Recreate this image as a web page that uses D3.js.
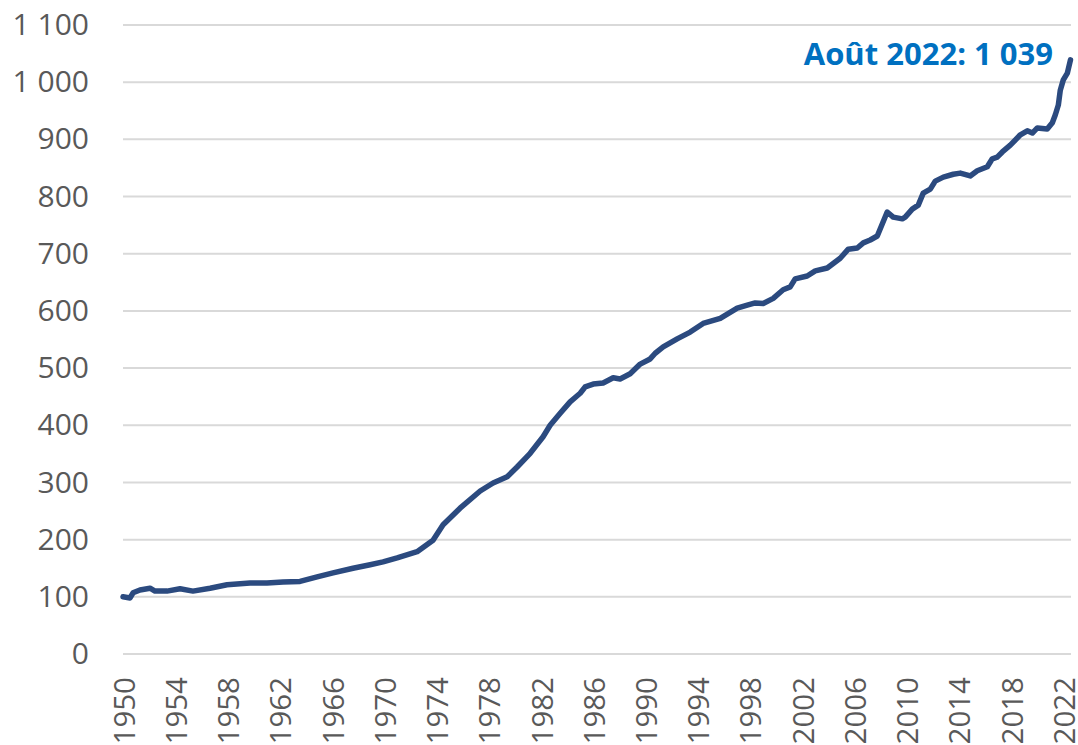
<!DOCTYPE html>
<html>
<head>
<meta charset="utf-8">
<script src="https://cdn.jsdelivr.net/npm/d3@7"></script>
<style>
  body { margin: 0; background: #fff; }
  #chart { width: 1078px; height: 745px; }
  text { font-family: "Open Sans", "Noto Sans", sans-serif; }
</style>
</head>
<body>
<div id="chart"></div>
<script>
// data (fractional year, index value)
var years = [1950.0, 1950.54, 1950.77, 1951.3, 1952.07, 1952.45, 1953.37, 1954.37, 1955.36, 1956.67,
  1957.97, 1959.73, 1961.03, 1962.26, 1963.56, 1964.87, 1966.09, 1967.62, 1968.93, 1969.92,
  1971.0, 1972.53, 1973.75, 1974.52, 1975.82, 1977.36, 1978.35, 1979.43, 1980.19, 1981.19,
  1982.18, 1982.72, 1983.49, 1984.25, 1985.02, 1985.4, 1986.02, 1986.78, 1987.55, 1988.08,
  1988.85, 1989.62, 1990.38, 1990.77, 1991.38, 1992.45, 1993.45, 1994.44, 1995.75, 1997.05,
  1997.82, 1998.43, 1999.04, 1999.81, 2000.57, 2001.11, 2001.49, 2002.41, 2003.03, 2003.95,
  2004.94, 2005.56, 2006.25, 2006.71, 2007.24, 2007.78, 2008.54, 2009.0, 2009.7, 2009.92,
  2010.46, 2010.92, 2011.3, 2011.84, 2012.22, 2012.84, 2013.6, 2014.14, 2014.9, 2015.44,
  2016.21, 2016.59, 2016.97, 2017.36, 2017.97, 2018.74, 2019.27, 2019.66, 2020.04, 2020.8,
  2021.19, 2021.42, 2021.65, 2021.8, 2022.03, 2022.34, 2022.58];
var values = [100, 98, 107, 112, 115, 110, 110, 114, 110, 115,
  121, 124, 124, 126, 127, 135, 142, 150, 156, 161,
  168, 179, 199, 226, 255, 285, 299, 310, 327, 351,
  380, 400, 421, 441, 456, 467, 472, 474, 483, 481,
  490, 507, 516, 526, 537, 551, 563, 578, 587, 605,
  610, 614, 613, 622, 637, 642, 656, 661, 670, 675,
  692, 708, 710, 719, 724, 731, 773, 764, 761, 764,
  778, 785, 806, 813, 827, 834, 839, 841, 836, 845,
  852, 866, 869, 878, 890, 908, 915, 911, 920, 918,
  929, 943, 960, 986, 1004, 1016, 1039];
var xTicks = d3.range(1950, 2023, 4);
var yTicks = d3.range(0, 1101, 100);
var annotation = "Août 2022: 1 039";

var svgWidth = 1078;
var svgHeight = 745;

var svg = d3.select("#chart")
  .append("svg")
  .attr("width", svgWidth)
  .attr("height", svgHeight);

var fr = d3.formatLocale({ decimal: ",", thousands: " ", grouping: [3], currency: ["", " €"] });
var fmt = fr.format(",d");

var x = d3.scaleLinear().domain([1950, 2022.62]).range([123, 1071]);
var y = d3.scaleLinear().domain([0, 1100]).range([654, 25]);

// gridlines
svg.append("g")
  .selectAll("line")
  .data(yTicks)
  .enter()
  .append("line")
  .attr("x1", 123)
  .attr("x2", 1071)
  .attr("y1", function(d) { return y(d); })
  .attr("y2", function(d) { return y(d); })
  .attr("stroke", "#d9d9d9")
  .attr("stroke-width", 2);

// y axis labels
var leftAxis = d3.axisLeft(y).tickValues(yTicks).tickFormat(fmt).tickSize(0).tickPadding(0);
var yAxis = svg.append("g")
  .attr("transform", "translate(89,0)")
  .call(leftAxis);
yAxis.select(".domain").remove();
yAxis.selectAll("text")
  .attr("font-size", 30)
  .attr("fill", "#595959")
  .attr("font-family", "'Open Sans', 'Noto Sans', sans-serif");

// x axis labels, rotated
var bottomAxis = d3.axisBottom(x).tickValues(xTicks).tickFormat(d3.format("d")).tickSize(0);
var xAxis = svg.append("g")
  .attr("transform", "translate(1,677)")
  .call(bottomAxis);
xAxis.select(".domain").remove();
xAxis.selectAll("text")
  .attr("font-size", 29.5)
  .attr("fill", "#595959")
  .attr("font-family", "'Open Sans', 'Noto Sans', sans-serif")
  .attr("text-anchor", "end")
  .attr("dy", "0.35em")
  .attr("y", 0)
  .attr("x", 0)
  .attr("transform", "rotate(-90)");

// line
var line = d3.line()
  .x(function(d, i) { return x(years[i]); })
  .y(function(d) { return y(d); });

svg.append("path")
  .datum(values)
  .attr("d", line)
  .attr("fill", "none")
  .attr("stroke", "#2b4a7f")
  .attr("stroke-width", 5.5)
  .attr("stroke-linejoin", "round")
  .attr("stroke-linecap", "round");

// end annotation
svg.append("text")
  .attr("x", 1053)
  .attr("y", 65)
  .attr("text-anchor", "end")
  .attr("font-size", 31)
  .attr("font-weight", "bold")
  .attr("fill", "#0070c0")
  .text(annotation);
</script>
</body>
</html>
